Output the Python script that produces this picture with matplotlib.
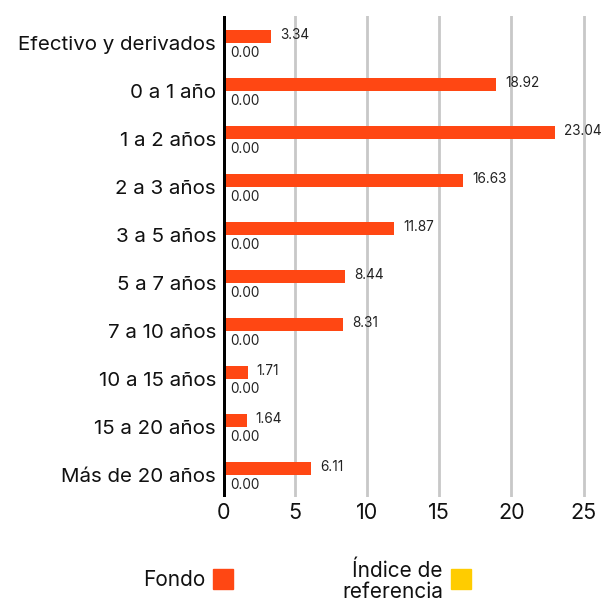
import matplotlib
matplotlib.use("Agg")
from matplotlib import pyplot as plt
from matplotlib.patches import Rectangle

plt.rcParams['font.family'] = ['Inter', 'DejaVu Sans']

categories = ["Efectivo y derivados", "0 a 1 año", "1 a 2 años", "2 a 3 años",
              "3 a 5 años", "5 a 7 años", "7 a 10 años", "10 a 15 años",
              "15 a 20 años", "Más de 20 años"]
fondo = [3.34, 18.92, 23.04, 16.63, 11.87, 8.44, 8.31, 1.71, 1.64, 6.11]
indice = [0.00] * 10
xticks = [0, 5, 10, 15, 20, 25]

c_fondo = "#FF4713"
c_indice = "#FFCC00"

W, H = 613, 606
fig = plt.figure(figsize=(W / 100, H / 100), dpi=100)
ax = fig.add_axes([223 / W, 1 - 497 / H, (598 - 223) / W, (497 - 16) / H])

h = 13 / 48
pos = list(range(len(categories)))
ax.barh([p - h / 2 for p in pos], fondo, height=h, color=c_fondo, zorder=3)
ax.barh([p + h / 2 for p in pos], indice, height=h, color=c_indice, zorder=3)

for p, v in zip(pos, fondo):
    ax.annotate(f"{v:.2f}", (v, p - h / 2 - 0.03), xytext=(6.5, 0),
                textcoords="offset points", va="center", ha="left",
                fontsize=9.8, color="#222222")
for p, v in zip(pos, indice):
    ax.annotate(f"{v:.2f}", (v, p + h / 2 + 0.07), xytext=(5.5, 0),
                textcoords="offset points", va="center", ha="left",
                fontsize=9.8, color="#222222")

ax.set_xlim(0, 26)
ax.set_ylim(9.46, -0.56)
ax.set_xticks(xticks)
ax.set_yticks(pos)
ax.set_yticklabels(categories, fontsize=14.8, color="#111111")
ax.tick_params(axis="x", labelsize=15.5, length=0, pad=4, labelcolor="#111111")
ax.tick_params(axis="y", length=0, pad=5)
ax.xaxis.grid(True, color="#c8c8c8", linewidth=2, zorder=0)
for s in ax.spines.values():
    s.set_visible(False)
ax.axvline(0, color="black", linewidth=3.6, zorder=4)

# legend drawn by hand
fig.text(205 / W, 1 - 580 / H, "Fondo", ha="right", va="center", fontsize=15, color="#111111")
fig.patches.append(Rectangle((213 / W, 1 - 589 / H), 20 / W, 20 / H,
                             transform=fig.transFigure, color=c_fondo))
fig.text(443 / W, 1 - 581 / H, "Índice de\nreferencia", ha="right", va="center",
         fontsize=15, color="#111111", linespacing=1.05)
fig.patches.append(Rectangle((451 / W, 1 - 589 / H), 20 / W, 20 / H,
                             transform=fig.transFigure, color=c_indice))

fig.savefig("out.png", dpi=100)
